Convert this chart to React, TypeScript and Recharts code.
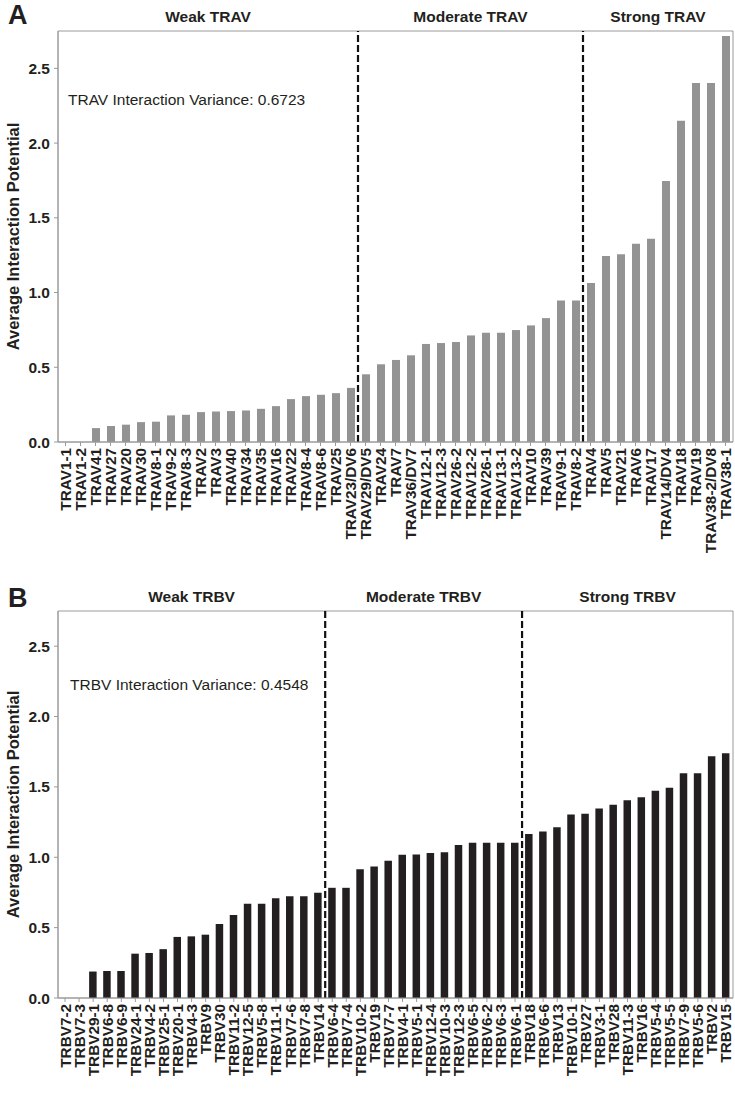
import React from 'react'
import { BarChart, Bar, XAxis, YAxis, ReferenceLine, ReferenceArea } from 'recharts'

// TRAV genes, ordered by interaction potential
const travGenes = [
  'TRAV1-1', 'TRAV1-2', 'TRAV41', 'TRAV27', 'TRAV20', 'TRAV30', 'TRAV8-1', 'TRAV9-2', 'TRAV8-3',
  'TRAV2', 'TRAV3', 'TRAV40', 'TRAV34', 'TRAV35', 'TRAV16', 'TRAV22', 'TRAV8-4', 'TRAV8-6',
  'TRAV25', 'TRAV23/DV6', 'TRAV29/DV5', 'TRAV24', 'TRAV7', 'TRAV36/DV7', 'TRAV12-1', 'TRAV12-3',
  'TRAV26-2', 'TRAV12-2', 'TRAV26-1', 'TRAV13-1', 'TRAV13-2', 'TRAV10', 'TRAV39', 'TRAV9-1',
  'TRAV8-2', 'TRAV4', 'TRAV5', 'TRAV21', 'TRAV6', 'TRAV17', 'TRAV14/DV4', 'TRAV18', 'TRAV19',
  'TRAV38-2/DV8', 'TRAV38-1',
]
const travValues = [
  0, 0, 0.093, 0.107, 0.116, 0.133, 0.136, 0.178, 0.182,
  0.2, 0.204, 0.207, 0.211, 0.222, 0.24, 0.287, 0.307, 0.316,
  0.327, 0.362, 0.453, 0.52, 0.549, 0.58, 0.656, 0.662,
  0.669, 0.713, 0.731, 0.731, 0.749, 0.78, 0.829, 0.947,
  0.947, 1.064, 1.244, 1.256, 1.327, 1.36, 1.747, 2.149, 2.402,
  2.402, 2.716,
]
const travSections = [
  { label: 'Weak TRAV', first: 'TRAV1-1', last: 'TRAV23/DV6' },
  { label: 'Moderate TRAV', first: 'TRAV29/DV5', last: 'TRAV8-2' },
  { label: 'Strong TRAV', first: 'TRAV4', last: 'TRAV38-1' },
]

// TRBV genes
const trbvGenes = [
  'TRBV7-2', 'TRBV7-3', 'TRBV29-1', 'TRBV6-8', 'TRBV6-9', 'TRBV24-1', 'TRBV4-2', 'TRBV25-1',
  'TRBV20-1', 'TRBV4-3', 'TRBV9', 'TRBV30', 'TRBV11-2', 'TRBV12-5', 'TRBV5-8', 'TRBV11-1',
  'TRBV7-6', 'TRBV7-8', 'TRBV14', 'TRBV6-4', 'TRBV7-4', 'TRBV10-2', 'TRBV19', 'TRBV7-7',
  'TRBV4-1', 'TRBV5-1', 'TRBV12-4', 'TRBV10-3', 'TRBV12-3', 'TRBV6-5', 'TRBV6-2', 'TRBV6-3',
  'TRBV6-1', 'TRBV18', 'TRBV6-6', 'TRBV13', 'TRBV10-1', 'TRBV27', 'TRBV3-1', 'TRBV28',
  'TRBV11-3', 'TRBV16', 'TRBV5-4', 'TRBV5-5', 'TRBV7-9', 'TRBV5-6', 'TRBV2', 'TRBV15',
]
const trbvValues = [
  0, 0, 0.188, 0.192, 0.192, 0.315, 0.32, 0.347,
  0.434, 0.438, 0.45, 0.526, 0.59, 0.669, 0.669, 0.709,
  0.723, 0.723, 0.748, 0.783, 0.783, 0.915, 0.935, 0.975,
  1.018, 1.02, 1.031, 1.036, 1.087, 1.103, 1.103, 1.103,
  1.103, 1.166, 1.183, 1.213, 1.304, 1.309, 1.347, 1.374,
  1.405, 1.427, 1.472, 1.494, 1.597, 1.597, 1.718, 1.74,
]
const trbvSections = [
  { label: 'Weak TRBV', first: 'TRBV7-2', last: 'TRBV14' },
  { label: 'Moderate TRBV', first: 'TRBV6-4', last: 'TRBV6-1' },
  { label: 'Strong TRBV', first: 'TRBV18', last: 'TRBV15' },
]

const yTicks = [0, 0.5, 1, 1.5, 2, 2.5]

const FONT = '"Liberation Sans", Arial, sans-serif'
const INK = '#231f20'
const AXIS = '#9a9a9a'

const GeneTick = ({ x, y, payload }: any) => (
  <text
    transform={`translate(${x},${y}) rotate(-90)`}
    textAnchor="end"
    dy="0.36em"
    fontFamily={FONT}
    fontSize={15.3}
    fontWeight="bold"
    fill={INK}
  >
    {payload.value}
  </text>
)

interface PanelProps {
  genes: string[]
  values: number[]
  sections: { label: string; first: string; last: string }[]
  color: string
  barSize: number
  height: number
  top: number
  xHeight: number
  bottom: number
}

function Panel({ genes, values, sections, color, barSize, height, top, xHeight, bottom }: PanelProps) {
  const rows = genes.map((name, i) => ({ name, value: values[i] }))
  return (
    <BarChart
      width={735}
      height={height}
      data={rows}
      margin={{ top, right: 2, left: 0, bottom }}
      barSize={barSize}
    >
      <XAxis
        dataKey="name"
        interval={0}
        height={xHeight}
        tick={<GeneTick />}
        tickSize={4}
        tickMargin={2}
        stroke={AXIS}
      />
      <YAxis
        width={58}
        domain={[0, 2.75]}
        ticks={yTicks}
        allowDataOverflow
        tickFormatter={(v: number) => v.toFixed(1)}
        tick={{ fontFamily: FONT, fontSize: 15.5, fontWeight: 'bold', fill: INK }}
        tickSize={4}
        tickMargin={4}
        stroke={AXIS}
        label={{
          value: 'Average Interaction Potential',
          angle: -90,
          position: 'insideLeft',
          offset: 13,
          style: { textAnchor: 'middle', fontFamily: FONT, fontSize: 16.5, fontWeight: 'bold', fill: INK },
        }}
      />
      {/* plot frame */}
      <ReferenceArea
        x1={genes[0]}
        x2={genes[genes.length - 1]}
        fill="none"
        stroke={AXIS}
        strokeWidth={1}
        ifOverflow="visible"
      />
      {sections.map(s => (
        <ReferenceArea
          key={s.label}
          x1={s.first}
          x2={s.last}
          fillOpacity={0}
          strokeOpacity={0}
          ifOverflow="visible"
          label={{
            value: s.label,
            position: 'top',
            offset: 9,
            style: { fontFamily: FONT, fontSize: 15.5, fontWeight: 'bold', fill: INK },
          }}
        />
      ))}
      <Bar dataKey="value" fill={color} isAnimationActive={false} />
      {sections.slice(1).map(s => (
        <ReferenceLine
          key={s.first}
          x={s.first}
          position="start"
          stroke="#111"
          strokeWidth={2.2}
          strokeDasharray="7 3"
        />
      ))}
    </BarChart>
  )
}

const letterStyle: React.CSSProperties = {
  position: 'absolute',
  left: 8,
  fontFamily: FONT,
  fontWeight: 'bold',
  fontSize: 27,
  lineHeight: '24px',
  color: INK,
}

const noteStyle: React.CSSProperties = {
  position: 'absolute',
  fontFamily: FONT,
  fontSize: 15.5,
  lineHeight: '16px',
  color: INK,
  whiteSpace: 'nowrap',
}

export default function App() {
  return (
    <div style={{ position: 'absolute', left: 0, top: 0, width: 735, height: 1099, background: '#fff', overflow: 'hidden' }}>
      <div style={{ position: 'absolute', left: 0, top: 0 }}>
        <Panel
          genes={travGenes}
          values={travValues}
          sections={travSections}
          color="#939393"
          barSize={8}
          height={575}
          top={31}
          xHeight={120}
          bottom={13}
        />
      </div>
      <div style={{ position: 'absolute', left: 0, top: 575 }}>
        <Panel
          genes={trbvGenes}
          values={trbvValues}
          sections={trbvSections}
          color={INK}
          barSize={7.5}
          height={524}
          top={36}
          xHeight={101}
          bottom={0}
        />
      </div>
      <div style={{ ...letterStyle, top: 3 }}>A</div>
      <div style={{ ...letterStyle, top: 586 }}>B</div>
      <div style={{ ...noteStyle, left: 68, top: 92 }}>TRAV Interaction Variance: 0.6723</div>
      <div style={{ ...noteStyle, left: 70, top: 677 }}>TRBV Interaction Variance: 0.4548</div>
    </div>
  )
}
